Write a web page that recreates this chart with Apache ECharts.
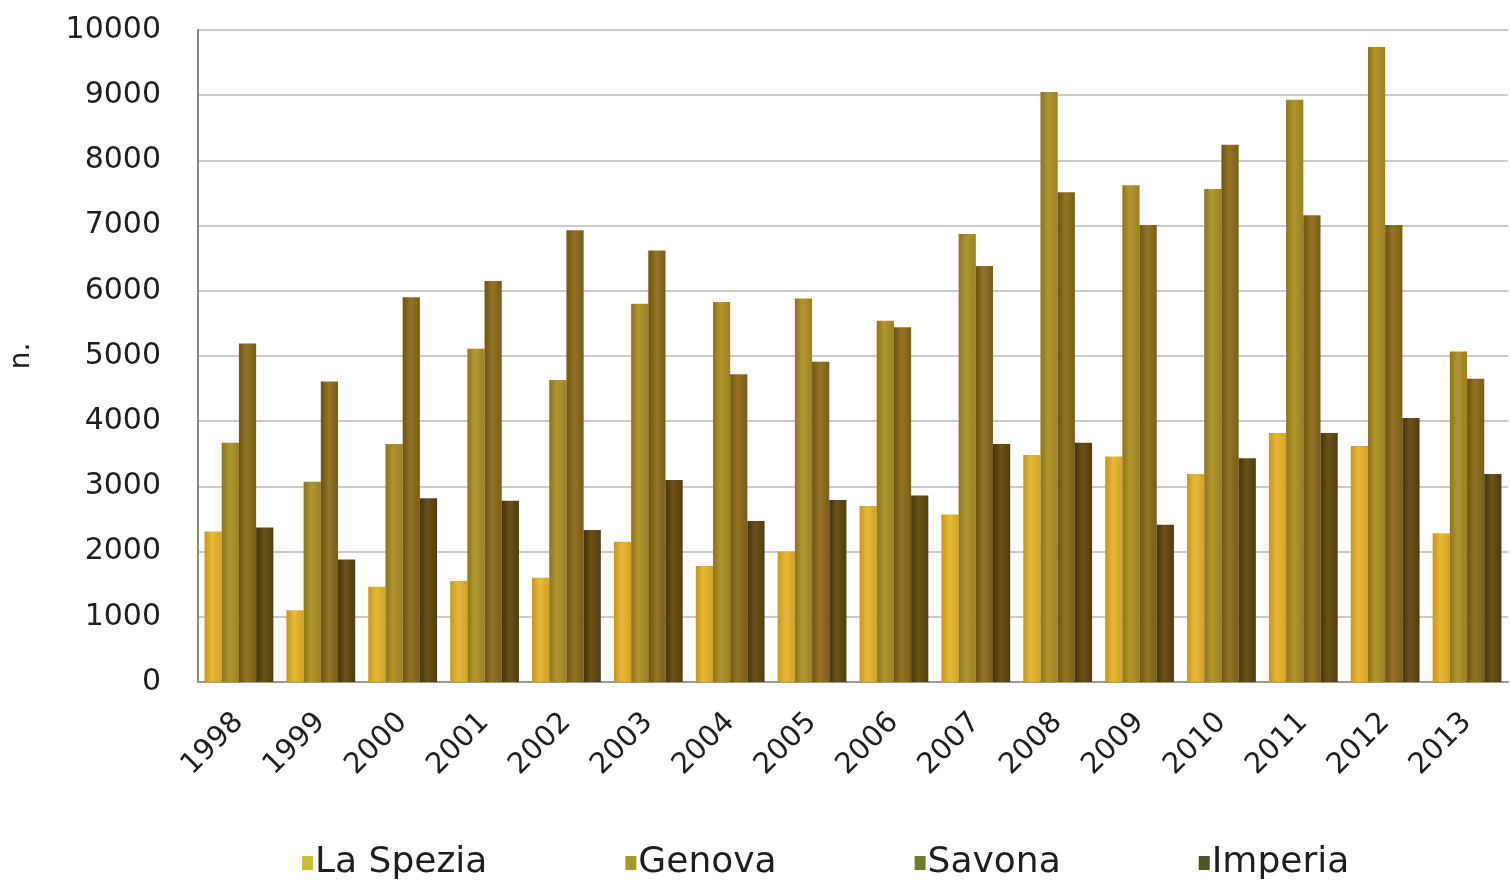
<!DOCTYPE html>
<html>
<head>
<meta charset="utf-8">
<script src="https://cdn.jsdelivr.net/npm/echarts@6/dist/echarts.min.js"></script>
<style>
html,body{margin:0;padding:0;background:#fff;}
#c{width:1510px;height:882px;}
</style>
</head>
<body>
<div id="c"></div>
<script>
var years = ['1998','1999','2000','2001','2002','2003','2004','2005','2006','2007','2008','2009','2010','2011','2012','2013'];
var seriesNames = ['La Spezia','Genova','Savona','Imperia'];
var laSpezia = [2310,1100,1460,1550,1600,2150,1780,2000,2700,2570,3480,3460,3190,3820,3620,2280];
var genova   = [3670,3070,3650,5110,4630,5800,5830,5880,5540,6870,9050,7620,7560,8930,9740,5070];
var savona   = [5190,4610,5900,6150,6930,6620,4720,4910,5440,6380,7510,7010,8240,7160,7010,4650];
var imperia  = [2370,1880,2820,2780,2330,3100,2470,2790,2860,3650,3670,2410,3430,3820,4050,3190];
var yTicks = [0,1000,2000,3000,4000,5000,6000,7000,8000,9000,10000];

var barColors = [
  ['#c9951c','#e6b838','#d4a226'],
  ['#8f7418','#b39632','#9c7f20'],
  ['#6f5210','#957428','#7a5c16'],
  ['#46340a','#6a5218','#503c0e']
];
var legendColors = ['#c9bd3a','#a4972e','#6b7b30','#4b5626'];
var values = [laSpezia, genova, savona, imperia];

function grad(c){
  return new echarts.graphic.LinearGradient(0,0,1,0,[
    {offset:0,color:c[0]},{offset:0.45,color:c[1]},{offset:1,color:c[2]}
  ]);
}

var chart = echarts.init(document.getElementById('c'));
var font = 'DejaVu Sans, Arial, sans-serif';
chart.setOption({
  animation:false,
  backgroundColor:'#fff',
  grid:{left:195,right:2,top:30,bottom:200,containLabel:false},
  legend:{
    top:845,
    left:302,
    padding:0,
    itemWidth:11,itemHeight:14,
    itemGap:138,
    textStyle:{fontFamily:font,fontSize:36,color:'#1e1e1e',padding:[0,0,0,-3]},
    data:seriesNames.map(function(n,i){return {name:n,icon:'rect',itemStyle:{color:legendColors[i]}};})
  },
  xAxis:{
    type:'category',
    data:years,
    axisLine:{show:true,lineStyle:{color:'#999',width:2}},
    axisTick:{show:false},
    axisLabel:{rotate:45,interval:0,fontFamily:font,fontSize:29,color:'#1e1e1e',margin:36}
  },
  yAxis:{
    type:'value',
    min:0,max:10000,interval:1000,
    name:'n.',
    nameLocation:'middle',
    nameGap:162,
    nameRotate:90,
    nameTextStyle:{fontFamily:font,fontSize:28,color:'#1e1e1e'},
    axisLine:{show:true,lineStyle:{color:'#888',width:2}},
    axisTick:{show:false},
    axisLabel:{fontFamily:font,fontSize:30,color:'#1e1e1e',margin:37,
      formatter:function(v){return yTicks.indexOf(v)>=0?String(v):'';}},
    splitLine:{show:true,lineStyle:{color:'#c9c9cf',width:2}}
  },
  series:seriesNames.map(function(n,i){
    return {
      name:n,type:'bar',data:values[i],
      barGap:'0%',barCategoryGap:'16%',
      itemStyle:{color:grad(barColors[i])}
    };
  })
});
</script>
</body>
</html>
